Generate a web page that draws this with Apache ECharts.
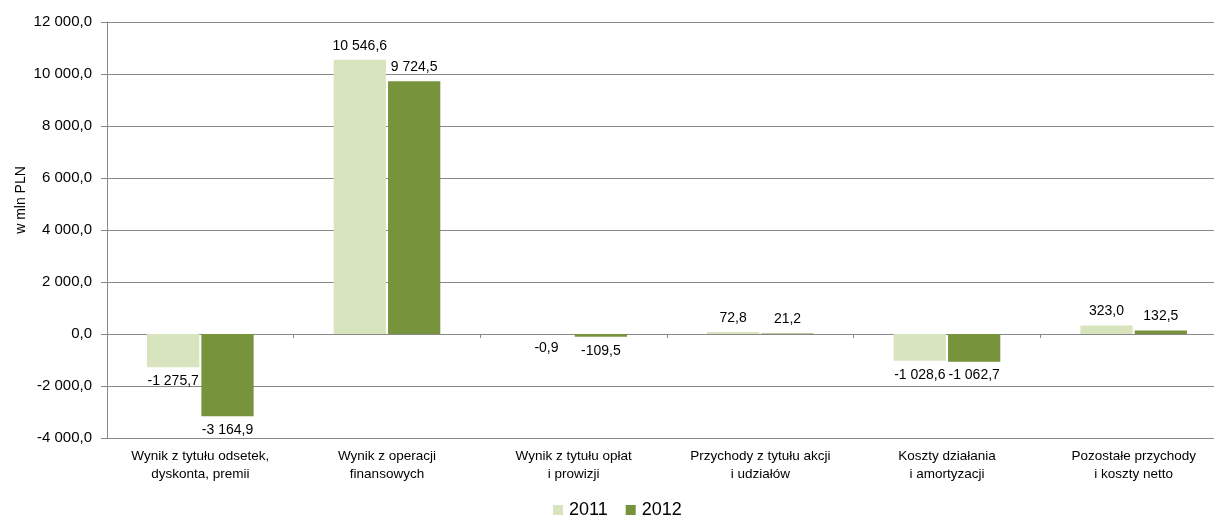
<!DOCTYPE html>
<html><head><meta charset="utf-8">
<script src="https://cdn.jsdelivr.net/npm/echarts@6/dist/echarts.min.js"></script>
<style>html,body{margin:0;padding:0;background:#fff;overflow:hidden;width:1214px;height:516px}#c{width:1228px;height:516px}</style>
</head><body><div id="c"></div>
<script>
const categories = [
  'Wynik z tytułu odsetek,\ndyskonta, premii',
  'Wynik z operacji\nfinansowych',
  'Wynik z tytułu opłat\ni prowizji',
  'Przychody z tytułu akcji\ni udziałów',
  'Koszty działania\ni amortyzacji',
  'Pozostałe przychody\ni koszty netto'
];
const seriesNames = ['2011', '2012'];
const values2011 = [-1275.7, 10546.6, -0.9, 72.8, -1028.6, 323.0];
const values2012 = [-3164.9, 9724.5, -109.5, 21.2, -1062.7, 132.5];
const yTicks = { min: -4000, max: 12000, interval: 2000 };
const yName = 'w mln PLN';

function fmt(v, dec) {
  const neg = v < 0;
  const s = Math.abs(v).toFixed(dec);
  let [i, d] = s.split('.');
  i = i.replace(/\B(?=(\d{3})+(?!\d))/g, ' ');
  return (neg ? '-' : '') + i + (d !== undefined ? ',' + d : '');
}
function toData(arr) {
  return arr.map(v => ({ value: v, label: { position: v < 0 ? 'bottom' : 'top' } }));
}
const font = 'Liberation Sans, Arial, sans-serif';
const chart = echarts.init(document.getElementById('c'));
chart.setOption({
  animation: false,
  textStyle: { fontFamily: font },
  grid: { left: 107, right: 1, top: 22, bottom: 78 },
  graphic: [{
    type: 'text', x: 21, y: 200, rotation: Math.PI / 2,
    style: { text: yName, fill: '#000', font: '14px Liberation Sans, Arial, sans-serif',
             textAlign: 'center', textVerticalAlign: 'middle' }
  }],
  legend: {
    top: 496, left: 548, itemWidth: 10, itemHeight: 10, itemGap: 18,
    icon: 'rect',
    textStyle: { fontSize: 18, color: '#000', padding: [0, 0, 0, 1] },
    data: seriesNames
  },
  xAxis: [{
    type: 'category', data: categories, position: 'bottom',
    axisLine: { onZero: false, show: false },
    axisTick: { show: false },
    axisLabel: { color: '#000', fontSize: 13.5, lineHeight: 18, margin: 9, interval: 0 }
  }, {
    type: 'category', data: categories, position: 'bottom',
    axisLine: { onZero: true, lineStyle: { color: '#888', width: 1 } },
    axisTick: { show: true, length: 4, lineStyle: { color: '#888' } },
    axisLabel: { show: false }
  }],
  yAxis: {
    type: 'value', min: yTicks.min, max: yTicks.max, interval: yTicks.interval,
    axisLine: { show: true, lineStyle: { color: '#888' } },
    axisTick: { show: true, length: 6, lineStyle: { color: '#888' } },
    axisLabel: { color: '#000', fontSize: 15, margin: 15, formatter: v => fmt(v, 1) },
    splitLine: { lineStyle: { color: '#888', width: 1 } }
  },
  series: [{
    name: seriesNames[0], type: 'bar', data: toData(values2011),
    barWidth: '28%', barGap: '4%',
    itemStyle: { color: '#D7E4BD' },
    label: { show: true, color: '#000', fontSize: 14, distance: 7, formatter: p => fmt(p.value, 1) }
  }, {
    name: seriesNames[1], type: 'bar', data: toData(values2012),
    barWidth: '28%', barGap: '4%',
    itemStyle: { color: '#77933C' },
    label: { show: true, color: '#000', fontSize: 14, distance: 7, formatter: p => fmt(p.value, 1) }
  }]
});
</script></body></html>
